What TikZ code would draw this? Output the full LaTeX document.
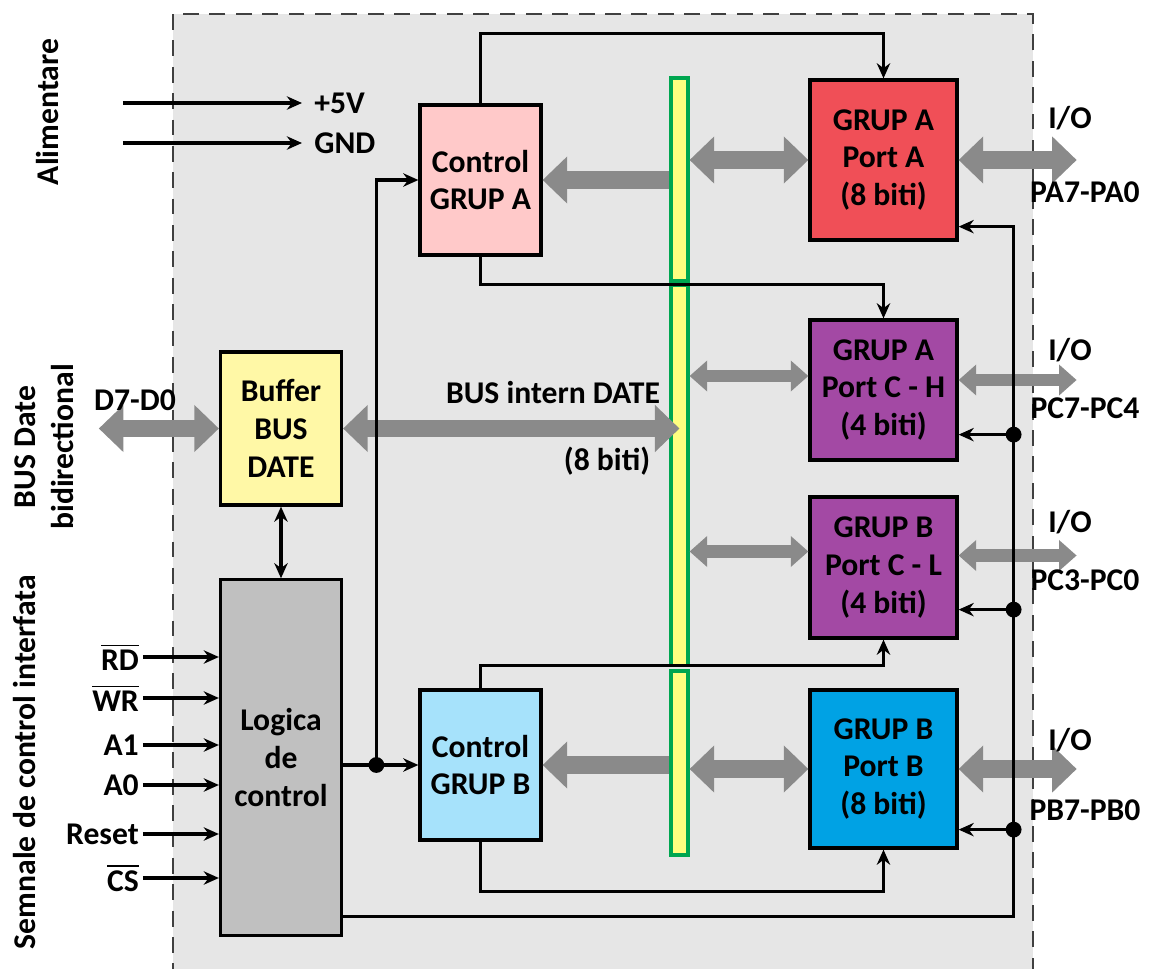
\documentclass[tikz,border=0pt]{standalone}
\usepackage{fontspec}
\setmainfont{Carlito}
\usetikzlibrary{positioning,arrows.meta,calc}
\definecolor{bggray}{HTML}{E6E6E6}
\definecolor{framegray}{HTML}{404040}
\definecolor{arrgray}{HTML}{8A8A8A}
\definecolor{ctlpink}{HTML}{FFC9C9}
\definecolor{ctlblue}{HTML}{A6E2FB}
\definecolor{bufyellow}{HTML}{FFF8A6}
\definecolor{logicgray}{HTML}{C0C0C0}
\definecolor{portred}{HTML}{F04F57}
\definecolor{portpurple}{HTML}{A349A4}
\definecolor{portblue}{HTML}{00A2E4}
\definecolor{busyellow}{HTML}{FFFF80}
\definecolor{busgreen}{HTML}{00A650}

\begin{document}
\begin{tikzpicture}[x=0.01cm,y=-0.01cm,font=\bfseries\fontsize{9}{10.8}\selectfont,
  block/.style={draw,line width=0.9pt,minimum width=1.21cm,align=center,inner sep=0},
  port/.style={block,minimum width=1.47cm}]
  \tikzstyle{wire}=[line width=0.9pt,-{Stealth[length=4.3pt,width=3.8pt]}]
  \tikzstyle{fat}=[draw=arrgray,line width=5pt,{Triangle[width=13pt,length=7pt]}-{Triangle[width=13pt,length=7pt]}]
  \tikzstyle{fat in}=[draw=arrgray,line width=5pt,-{Triangle[width=13pt,length=7pt]}]
  \tikzstyle{slim fat}=[draw=arrgray,line width=3.6pt,{Triangle[width=8.5pt,length=5pt]}-{Triangle[width=8.5pt,length=5pt]}]
  \tikzstyle{busbar}=[draw=busgreen,fill=busyellow,line width=0.9pt,minimum width=0.17cm,inner sep=0]
  \tikzstyle{dot}=[circle,fill,inner sep=0,minimum size=4.5pt]
  \useasboundingbox (0,0) rectangle (1162,969);
  \draw[framegray,fill=bggray,line width=0.8pt,dash pattern=on 4.5pt off 3pt] (173,14) rectangle (1033,1000);

  \node[block,fill=ctlpink,minimum height=1.5cm] (ctlA) at (480.5,180) {Control\\GRUP A};
  \node[block,fill=ctlblue,minimum height=1.5cm] (ctlB) at (480.5,765) {Control\\GRUP B};
  \node[block,fill=bufyellow,minimum height=1.53cm] (buffer) at (281,428.5) {Buffer\\BUS\\DATE};
  \node[block,fill=logicgray,minimum height=3.55cm] (logic) at (281,757.5) {Logica\\de\\control};
  \node[port,fill=portred,minimum height=1.6cm] (portA) at (883.5,160) {GRUP A\\Port A\\(8 biti)};
  \node[port,fill=portpurple,minimum height=1.4cm] (portCH) at (883.5,390) {GRUP A\\Port C - H\\(4 biti)};
  \node[port,fill=portpurple,minimum height=1.41cm] (portCL) at (883.5,567.5) {GRUP B\\Port C - L\\(4 biti)};
  \node[port,fill=portblue,minimum height=1.58cm] (portB) at (883.5,769) {GRUP B\\Port B\\(8 biti)};

  \node[busbar,minimum height=2.03cm] (bus1) at (679.5,179.5) {};
  \node[busbar,minimum height=3.79cm] (bus2) at (679.5,475.5) {};
  \node[busbar,minimum height=1.84cm] (bus3) at (679.5,763) {};

  \coordinate[left=1.2cm of buffer.west] (dbus);
  \coordinate[right=1.18cm of portA.east] (ioA);
  \coordinate (cH) at ($(portCH.west)+(0,-14)$);
  \coordinate (ioCH) at ($(portCH.east)+(118,-10)$);
  \coordinate (cL) at ($(portCL.west)+(0,-16)$);
  \coordinate (ioCL) at ($(portCL.east)+(118,-12)$);
  \coordinate[right=1.18cm of portB.east] (ioB);

  \draw[fat] (dbus) -- (buffer.west);
  \draw[fat] (buffer.east) -- (buffer.east -| bus2.center);
  \draw[fat] (portA.west -| bus1.east) -- (portA.west);
  \draw[fat] (portA.east) -- (ioA);
  \draw[slim fat] (cH -| bus2.east) -- (cH);
  \draw[slim fat] (ioCH -| portCH.east) -- (ioCH);
  \draw[slim fat] (cL -| bus2.east) -- (cL);
  \draw[slim fat] (ioCL -| portCL.east) -- (ioCL);
  \draw[fat] (portB.west -| bus3.east) -- (portB.west);
  \draw[fat] (portB.east) -- (ioB);
  \draw[fat in] (ctlA.east -| bus1.west) -- (ctlA.east);
  \draw[fat in] (ctlB.east -| bus3.west) -- (ctlB.east);

  \node[anchor=west] (vcc) at (302,103) {+5V};
  \node[anchor=west] (gnd) at (302,143) {GND};
  \coordinate[left=1.79cm of vcc.west] (vccin);
  \coordinate[left=1.79cm of gnd.west] (gndin);
  \draw[wire] (vccin) -- (vcc.west);
  \draw[wire] (gndin) -- (gnd.west);

  \draw[wire] (ctlA.north) -- ++(0,-70) -| (portA.north);
  \draw[wire] (ctlA.south) -- ++(0,28) -| (portCH.north);
  \draw[wire] (ctlB.north) -- ++(0,-23) -| (portCL.south);
  \draw[wire] (ctlB.south) -- ++(0,50) -| (portB.south);
  \draw[wire,{Stealth[length=4.3pt,width=3.8pt]}-{Stealth[length=4.3pt,width=3.8pt]}] (buffer.south) -- (logic.north);

  \coordinate (jL) at ($(ctlB.west)+(-42,0)$);
  \draw[wire] (logic.east |- ctlB.west) -- (ctlB.west);
  \draw[wire] (jL) |- (ctlA.west);
  \node[dot] at (jL) {};

  \coordinate (jA) at ($(portA.south east)+(55,-15)$);
  \coordinate (jCH) at ($(portCH.south east)+(55,-27)$);
  \coordinate (jCL) at ($(portCL.south east)+(55,-30)$);
  \coordinate (jB) at ($(portB.south east)+(55,-20)$);
  \draw[wire] ($(logic.south east)+(0,-20)$) -| (jA) -- (jA -| portA.east);
  \foreach \j/\p in {jCH/portCH,jCL/portCL,jB/portB}{
    \draw[wire] (\j) -- (\j -| \p.east);
    \node[dot] at (\j) {};
  }

  \foreach \y/\t [count=\i] in {657/{$\overline{\hbox{RD}}$},698/{$\overline{\hbox{WR}}$},745/A1,785/A0,834/Reset,878/{$\overline{\hbox{CS}}$}}{
    \node[anchor=east,inner xsep=1pt] (in\i) at (143,\y) {\t};
    \draw[wire] (in\i.east) -- (in\i.east -| logic.west);
  }

  \node (d70) at (135,400) {D7-D0};
  \node (busint) at (553,393) {BUS intern DATE};
  \node (busbits) at (607,461) {(8 biti)};
  \node (ioAl) at (1070,118) {I/O};
  \node (pa) at (1085,192) {PA7-PA0};
  \node (ioCHl) at (1070,350) {I/O};
  \node (pch) at (1085,408) {PC7-PC4};
  \node (ioCLl) at (1070,522) {I/O};
  \node (pcl) at (1085,580) {PC3-PC0};
  \node (ioBl) at (1070,740) {I/O};
  \node (pb) at (1085,810) {PB7-PB0};

  \node[rotate=90] (alim) at (48,112) {Alimentare};
  \node[rotate=90,align=center] (busd) at (44,447) {BUS Date\\bidirectional};
  \node[rotate=90] (semn) at (25,762) {Semnale de control interfata};
\end{tikzpicture}
\end{document}
